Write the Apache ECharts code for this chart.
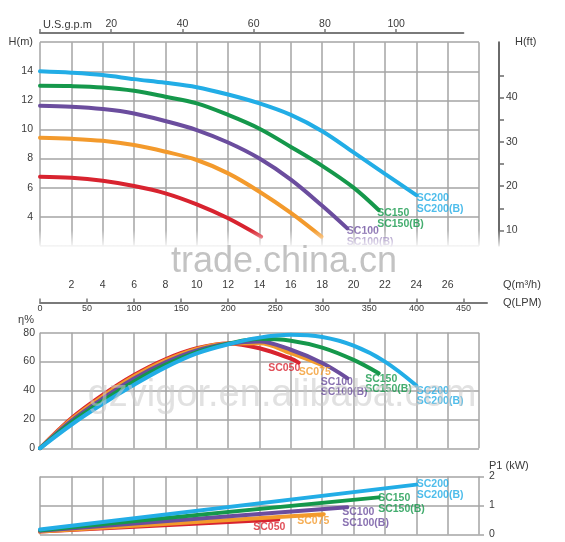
<!DOCTYPE html>
<html><head><meta charset="utf-8">
<script src="https://cdn.jsdelivr.net/npm/echarts@6/dist/echarts.min.js"></script>
<style>html,body{margin:0;padding:0;background:#fff}#c{width:565px;height:542px}</style>
</head><body><div id="c"></div>
<script>
// ---------------- data ----------------
const models = ['SC050', 'SC075', 'SC100', 'SC150', 'SC200'];
const modelLabels = ['SC050', 'SC075', 'SC100\nSC100(B)', 'SC150\nSC150(B)', 'SC200\nSC200(B)'];
const colors = ['#d8232f', '#f39a2c', '#6b4d9e', '#15984b', '#22ade6'];

// H (m) vs Q (m3/h)
const headSC050 = [[0,6.75],[2,6.68],[4,6.47],[6,6.11],[8,5.61],[10,4.85],[12,3.89],[14.1,2.63]];
const headSC075 = [[0,9.43],[2,9.36],[4,9.22],[6,8.93],[8,8.47],[10,7.9],[12,6.98],[14,5.72],[16,4.26],[17.95,2.63]];
const headSC100 = [[0,11.63],[2,11.56],[4,11.4],[6,11.1],[8,10.58],[10,9.96],[12,9.1],[14,8.0],[16,6.55],[18,4.75],[19.6,3.2]];
const headSC150 = [[0,13.0],[2,12.98],[4,12.89],[6,12.66],[8,12.25],[10,11.79],[12,11.0],[14,10.05],[16,8.8],[18,7.5],[20,6.0],[21.6,4.46]];
const headSC200 = [[0,14.0],[2,13.9],[4,13.74],[6,13.46],[8,13.21],[10,12.9],[12,12.4],[14,11.79],[16,11.0],[18,9.88],[20,8.43],[22,6.95],[24,5.49]];

// efficiency (%) vs Q
const effSC050 = [[0,0],[2,20.7],[4,36.9],[6,50.7],[8,61.6],[10,69.2],[12,72.6],[14,69.2],[16,62],[16.5,59.3]];
const effSC075 = [[0,0],[2,20],[4,36],[6,49.8],[8,60.8],[10,68.8],[12,72.5],[14,72.7],[16,65.8],[18,57.6]];
const effSC100 = [[0,0],[2,19],[4,34.5],[6,48.3],[8,59.5],[10,67.8],[12,72.3],[14,73.9],[16,68.2],[18,59],[19.6,48.6]];
const effSC150 = [[0,0],[2,17.8],[4,32.8],[6,46.3],[8,57.8],[10,66.5],[12,72.3],[14,75.8],[16,74.5],[18,69.7],[20,61.2],[21.6,52]];
const effSC200 = [[0,0],[2,16.3],[4,30.8],[6,44],[8,56],[10,65.7],[12,72],[14,76.6],[16,78.5],[18,77],[20,71],[22,60],[24,43.5]];

// P1 (kW) vs Q
const powSC050 = [[0,0.10],[15.2,0.52]];
const powSC075 = [[0,0.10],[18.1,0.70]];
const powSC100 = [[0,0.13],[19.6,0.94]];
const powSC150 = [[0,0.15],[21.6,1.28]];
const powSC200 = [[0,0.17],[24,1.72]];

const headData = [headSC050, headSC075, headSC100, headSC150, headSC200];
const effData = [effSC050, effSC075, effSC100, effSC150, effSC200];
const powData = [powSC050, powSC075, powSC100, powSC150, powSC200];

// secondary-axis ticks
const ftTicks = [10, 15, 20, 25, 30, 35, 40, 45];
const ftLabels = [10, 20, 30, 40];

// unit conversions for secondary axes
const M3H_PER_GPM = 0.2271247;
const FT_PER_M = 3.28084;
const qMax = 28;
const hMin = 2, hMax = 16;

// ---------------- chart ----------------
const FONT = 'Liberation Sans, Arial, sans-serif';
const GRID_LINE = {show: true, lineStyle: {color: '#a5a5a5', width: 1.5}};
const txt = '#3a3a3a';
const chart = echarts.init(document.getElementById('c'), null, {renderer: 'canvas'});

const grids = [
  {left: 40, right: 86, top: 42.2, height: 203.6},      // 0 head
  {left: 40, right: 101.6, top: 33, height: 0.5},       // 1 gpm
  {left: 40, right: 86, top: 284.5, height: 0.5},       // 2 m3/h labels
  {left: 40, right: 78, top: 302, height: 0.5},         // 3 LPM
  {left: 40, right: 86, top: 332.7, height: 115.6},     // 4 efficiency
  {left: 40, right: 86, top: 476.5, height: 58}         // 5 power
];

const qAxis = (gi) => ({
  type: 'value', gridIndex: gi, min: 0, max: qMax, interval: 2,
  axisLine: {show: false, onZero: false}, axisTick: {show: false}, axisLabel: {show: false},
  splitLine: GRID_LINE
});

const xAxes = [
  qAxis(0),
  { type: 'value', gridIndex: 1, position: 'top', min: 0, max: 27 / M3H_PER_GPM, interval: 20,
    axisLine: {show: true, onZero: false, lineStyle: {color: '#7a7a7a', width: 2}},
    axisTick: {show: true, length: 4, lineStyle: {color: '#7a7a7a', width: 1.5}},
    axisLabel: {color: txt, fontSize: 10.5, fontFamily: FONT, margin: 3, showMaxLabel: false,
      formatter: v => v === 0 ? '' : String(v)},
    splitLine: {show: false},
    name: 'U.S.g.p.m', nameLocation: 'start', nameGap: -3,
    nameTextStyle: {color: txt, fontSize: 11, fontFamily: FONT, align: 'left', verticalAlign: 'bottom', padding: [0, 0, 3, 0]}
  },
  { type: 'value', gridIndex: 2, position: 'bottom', min: 0, max: qMax, interval: 2,
    axisLine: {show: false, onZero: false}, axisTick: {show: false}, splitLine: {show: false},
    axisLabel: {color: txt, fontSize: 10.5, fontFamily: FONT, margin: 0, verticalAlign: 'middle',
      formatter: v => (v === 0 || v === qMax) ? '' : String(v)},
    name: 'Q(m³/h)', nameLocation: 'end', nameGap: 24,
    nameTextStyle: {color: txt, fontSize: 11, fontFamily: FONT, align: 'left', verticalAlign: 'middle'}
  },
  { type: 'value', gridIndex: 3, position: 'bottom', min: 0, max: 475, interval: 50,
    axisLine: {show: true, onZero: false, lineStyle: {color: '#7a7a7a', width: 2}},
    axisTick: {show: true, inside: true, length: 4, lineStyle: {color: '#7a7a7a', width: 1.5}},
    axisLabel: {color: txt, fontSize: 9, fontFamily: FONT, margin: 2, showMaxLabel: false},
    splitLine: {show: false},
    name: 'Q(LPM)', nameLocation: 'end', nameGap: 16,
    nameTextStyle: {color: txt, fontSize: 11, fontFamily: FONT, align: 'left', verticalAlign: 'middle'}
  },
  qAxis(4),
  qAxis(5)
];

const hiddenY = (gi) => ({type: 'value', gridIndex: gi, min: 0, max: 1, show: false});

const yAxes = [
  { type: 'value', gridIndex: 0, min: hMin, max: hMax, interval: 2,
    axisLine: {show: false, onZero: false}, axisTick: {show: false}, splitLine: GRID_LINE,
    axisLabel: {color: txt, fontSize: 10.5, fontFamily: FONT, margin: 7,
      formatter: v => v === hMax ? '{n|H(m)}' : (v === hMin ? '' : String(v)),
      rich: {n: {fontSize: 11, color: txt, fontFamily: FONT}}}
  },
  { type: 'value', gridIndex: 0, position: 'right', offset: 20,
    min: hMin * FT_PER_M, max: hMax * FT_PER_M,
    axisLine: {show: true, onZero: false, lineStyle: {color: '#6a6a6a', width: 2}},
    axisTick: {show: true, inside: false, length: 5, customValues: ftTicks, lineStyle: {color: '#6a6a6a', width: 1.5}},
    axisLabel: {color: txt, fontSize: 10.5, fontFamily: FONT, margin: 7, customValues: ftLabels},
    splitLine: {show: false},
    name: 'H(ft)', nameLocation: 'end', nameGap: 0,
    nameTextStyle: {color: txt, fontSize: 11, fontFamily: FONT, align: 'left', verticalAlign: 'middle', padding: [0, 0, 0, 16]}
  },
  hiddenY(1), hiddenY(2), hiddenY(3),
  { type: 'value', gridIndex: 4, min: 0, max: 80, interval: 20,
    axisLine: {show: false, onZero: false}, axisTick: {show: false}, splitLine: GRID_LINE,
    axisLabel: {color: txt, fontSize: 10.5, fontFamily: FONT, margin: 5},
    name: 'η%', nameLocation: 'end', nameGap: 7,
    nameTextStyle: {color: txt, fontSize: 11, fontFamily: FONT, align: 'right', padding: [0, 6, 0, 0]}
  },
  { type: 'value', gridIndex: 5, position: 'right', min: 0, max: 2, interval: 1,
    axisLine: {show: false, onZero: false},
    axisTick: {show: true, length: 5, lineStyle: {color: '#a5a5a5', width: 1.5}},
    axisLabel: {color: txt, fontSize: 10.5, fontFamily: FONT, margin: 10},
    splitLine: GRID_LINE,
    name: 'P1 (kW)', nameLocation: 'end', nameGap: 5,
    nameTextStyle: {color: txt, fontSize: 11, fontFamily: FONT, align: 'left', padding: [0, 0, 0, 10]}
  }
];

const series = [];
function addCurves(dataSets, xi, yi, smooth) {
  dataSets.forEach((d, i) => {
    series.push({
      type: 'line', name: models[i], xAxisIndex: xi, yAxisIndex: yi, data: d,
      smooth: smooth, showSymbol: false, symbol: 'none', silent: true,
      lineStyle: {color: colors[i], width: 4, cap: 'round'}, z: 3 + i
    });
  });
}
function addLabels(dataSets, xi, yi, idxs, offsets, lineHeight) {
  idxs.forEach((i, k) => {
    const d = dataSets[i];
    series.push({
      type: 'scatter', xAxisIndex: xi, yAxisIndex: yi, silent: true,
      symbolSize: 1, itemStyle: {color: 'rgba(0,0,0,0)'}, z: 10,
      data: [d[d.length - 1]],
      label: {show: true, position: 'right', distance: 0, align: 'left', verticalAlign: 'top',
        offset: offsets[k], formatter: modelLabels[i], color: colors[i],
        fontSize: 10.5, fontWeight: 'bold', fontFamily: FONT, lineHeight: lineHeight}
    });
  });
}

addCurves(headData, 0, 0, 0.35);
addCurves(effData, 4, 5, 0.35);
addCurves(powData, 5, 6, false);

addLabels(headData, 0, 0, [2, 3, 4], [[-1, -2], [-2, -2], [0, -2]], 10.5);
addLabels(effData, 4, 5, [0, 1, 2, 3, 4], [[-31, 0.5], [-24, 2], [-27, -1], [-14, 1], [0, 1]], 10);
addLabels(powData, 5, 6, [0, 1, 2, 3, 4], [[-25.6, 2], [-27, 1], [-5.6, -1], [-1, -5], [0, -6.5]], 11);

chart.setOption({
  animation: false,
  backgroundColor: '#ffffff',
  textStyle: {fontFamily: FONT},
  grid: grids,
  xAxis: xAxes,
  yAxis: yAxes,
  series: series,
  graphic: [
    { type: 'rect', silent: true, z: 100,
      shape: {x: 0, y: 230, width: 565, height: 48},
      style: {fill: new echarts.graphic.LinearGradient(0, 0, 0, 1, [
        {offset: 0, color: 'rgba(255,255,255,0)'},
        {offset: 0.35, color: 'rgba(255,255,255,0.9)'},
        {offset: 1, color: 'rgba(255,255,255,1)'}])}
    },
    { type: 'text', silent: true, z: 101, x: 284, y: 262,
      style: {text: 'trade.china.cn', fill: 'rgba(175,175,175,0.75)', font: '36px Liberation Sans, Arial, sans-serif',
        align: 'center', verticalAlign: 'middle'}
    },
    { type: 'text', silent: true, z: 101, x: 282, y: 396,
      style: {text: 'gzvigor.en.alibaba.com', fill: 'rgba(200,200,200,0.55)', font: '38px Liberation Sans, Arial, sans-serif',
        align: 'center', verticalAlign: 'middle'}
    }
  ]
});
</script>
</body></html>
